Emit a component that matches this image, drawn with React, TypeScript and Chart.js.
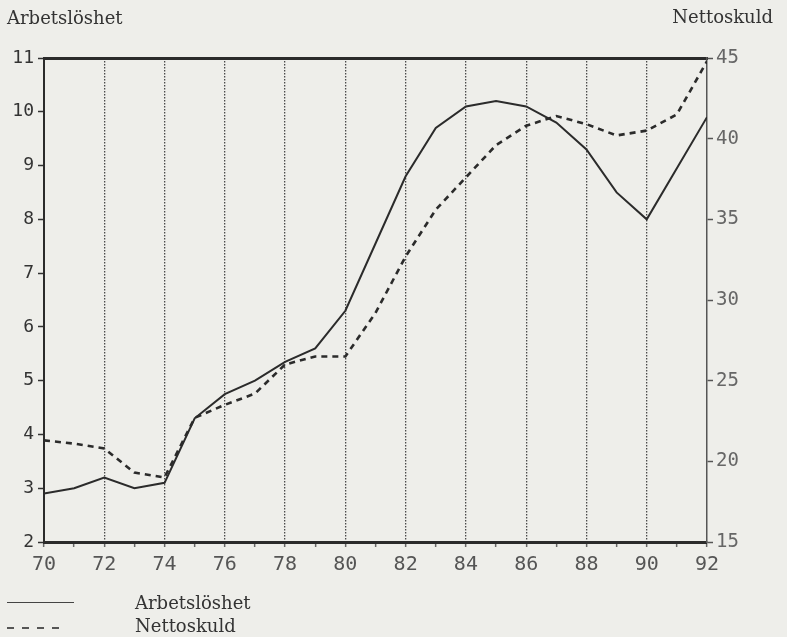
import React, { useEffect, useRef } from "react";
import { Chart, registerables } from "chart.js";

Chart.register(...registerables);

const years = [70, 71, 72, 73, 74, 75, 76, 77, 78, 79, 80, 81, 82, 83, 84, 85, 86, 87, 88, 89, 90, 91, 92];
const arbetsloshet = [2.9, 3.0, 3.2, 3.0, 3.1, 4.3, 4.75, 5.0, 5.35, 5.6, 6.3, 7.55, 8.8, 9.7, 10.1, 10.2, 10.1, 9.8, 9.3, 8.5, 8.0, 8.95, 9.9];
const nettoskuld = [21.3, 21.1, 20.8, 19.3, 19.0, 22.7, 23.5, 24.2, 26.0, 26.5, 26.5, 29.2, 32.7, 35.6, 37.6, 39.6, 40.8, 41.4, 40.9, 40.2, 40.5, 41.5, 44.8];
const seriesNames = ["Arbetslöshet", "Nettoskuld"];
const xTickLabels = ["70", "72", "74", "76", "78", "80", "82", "84", "86", "88", "90", "92"];
const leftTicks = [2, 3, 4, 5, 6, 7, 8, 9, 10, 11];
const rightTicks = [15, 20, 25, 30, 35, 40, 45];

const BG = "#eeeeea";
const INK = "#2b2b2b";

export default function App() {
  const ref = useRef<HTMLCanvasElement>(null);

  useEffect(() => {
    const canvas = ref.current;
    if (!canvas) return;
    const chart = new Chart(canvas, {
      type: "line",
      data: {
        datasets: [
          {
            label: seriesNames[0],
            data: years.map((x, i) => ({ x, y: arbetsloshet[i] })),
            yAxisID: "yL",
            borderColor: INK,
            borderWidth: 2,
            pointRadius: 0,
            tension: 0,
            fill: false,
          },
          {
            label: seriesNames[1],
            data: years.map((x, i) => ({ x, y: nettoskuld[i] })),
            yAxisID: "yR",
            borderColor: INK,
            borderWidth: 2.6,
            borderDash: [6, 5],
            pointRadius: 0,
            tension: 0,
            fill: false,
          },
        ],
      },
      options: {
        responsive: false,
        animation: false,
        devicePixelRatio: 1,
        layout: { padding: { top: 58, left: 0, right: 0, bottom: 0 } },
        plugins: { legend: { display: false }, tooltip: { enabled: false } },
        scales: {
          x: {
            type: "linear",
            position: "bottom",
            min: 70,
            max: 92,
            afterBuildTicks: (s: any) => {
              s.ticks = years.map((v) => ({ value: v }));
            },
            ticks: {
              autoSkip: false,
              maxRotation: 0,
              minRotation: 0,
              padding: 6,
              color: "#555",
              font: { family: "DejaVu Sans Mono", size: 20 },
              callback: (v: any) => (xTickLabels.includes(String(v)) ? String(v) : ""),
            },
            grid: {
              color: (c: any) => {
                const v = c.tick ? c.tick.value : 0;
                return v > 70 && v < 92 && v % 2 === 0 ? "#4a4a4a" : "rgba(0,0,0,0)";
              },
              lineWidth: 1.3,
              drawOnChartArea: true,
              drawTicks: true,
              tickColor: "#666",
              tickLength: 5,
              tickWidth: 1.5,
            },
            border: { display: true, color: INK, width: 3, dash: [1.5, 1.5] },
            afterFit: (s: any) => {
              s.height = 95;
            },
          },
          xTop: {
            type: "linear",
            position: "top",
            min: 70,
            max: 92,
            ticks: { display: false },
            grid: { display: false },
            border: { display: true, color: INK, width: 3 },
            afterFit: (s: any) => {
              s.height = 0;
            },
          },
          yL: {
            type: "linear",
            position: "left",
            min: 2,
            max: 11,
            afterBuildTicks: (s: any) => {
              s.ticks = leftTicks.map((v) => ({ value: v }));
            },
            ticks: {
              padding: 4,
              color: "#333",
              font: { family: "DejaVu Sans Mono", size: 18 },
            },
            grid: { drawOnChartArea: false, drawTicks: true, tickLength: 6, tickColor: "#333", tickWidth: 1.5 },
            border: { display: true, color: INK, width: 2 },
            afterFit: (s: any) => {
              s.width = 44;
            },
          },
          yR: {
            type: "linear",
            position: "right",
            min: 15,
            max: 45,
            afterBuildTicks: (s: any) => {
              s.ticks = rightTicks.map((v) => ({ value: v }));
            },
            ticks: {
              padding: 3,
              color: "#666",
              font: { family: "DejaVu Sans Mono", size: 19 },
            },
            grid: { drawOnChartArea: false, drawTicks: true, tickLength: 6, tickColor: "#555", tickWidth: 1.5 },
            border: { display: true, color: "#555", width: 1.5 },
            afterFit: (s: any) => {
              s.width = 80;
            },
          },
        },
      },
    });
    return () => chart.destroy();
  }, []);

  const serif = "'DejaVu Serif', serif";
  const textStyle: React.CSSProperties = {
    position: "absolute",
    fontFamily: serif,
    fontSize: 18,
    lineHeight: "18px",
    color: "#333",
    whiteSpace: "nowrap",
  };

  return (
    <div style={{ position: "fixed", left: 0, top: 0, width: 787, height: 637, background: BG, overflow: "hidden" }}>
      <canvas ref={ref} width={787} height={637} style={{ position: "absolute", left: 0, top: 0, width: 787, height: 637 }} />
      <div style={{ ...textStyle, left: 7, top: 9 }}>{seriesNames[0]}</div>
      <div style={{ ...textStyle, right: 14, top: 8 }}>{seriesNames[1]}</div>
      <div style={{ position: "absolute", left: 7, top: 602, width: 67, height: 0, borderTop: "1.5px solid #444" }} />
      <div style={{ ...textStyle, left: 135, top: 594 }}>{seriesNames[0]}</div>
      <div
        style={{
          position: "absolute",
          left: 7,
          top: 627,
          width: 53,
          height: 2,
          background: "repeating-linear-gradient(to right, #555 0px, #555 7px, transparent 7px, transparent 15px)",
        }}
      />
      <div style={{ ...textStyle, left: 135, top: 617 }}>{seriesNames[1]}</div>
    </div>
  );
}
